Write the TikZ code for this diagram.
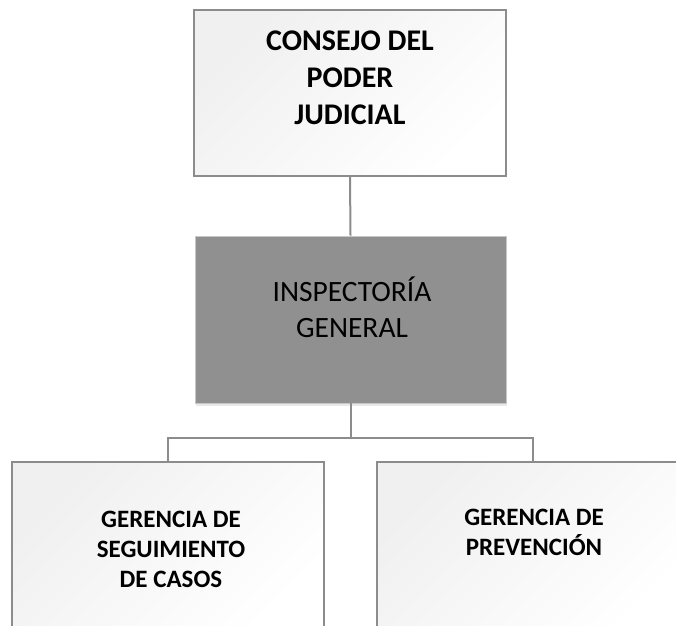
\documentclass[tikz,border=0pt]{standalone}
\usepackage{fontspec}
\setmainfont{Carlito}
\usetikzlibrary{shadows}
\definecolor{lineg}{HTML}{8C8C8C}
\definecolor{midfill}{HTML}{909090}
\tikzset{
  wbox/.style={draw=lineg, line width=2pt, top color=black!6, bottom color=white, shading angle=45,
    minimum width=312pt, minimum height=166pt, align=center, inner sep=0pt, text=black},
  gbox/.style={draw=black!22, line width=0.8pt, fill=midfill,
    minimum width=311pt, minimum height=167pt, align=center, inner sep=0pt, text=black,
    drop shadow={shadow xshift=1pt, shadow yshift=-3pt, opacity=0.18}},
  conn/.style={draw=lineg, line width=2pt}
}
\begin{document}
\begin{tikzpicture}[x=1pt,y=-1pt]
\useasboundingbox (0,0) rectangle (676,625);
\clip (0,0) rectangle (676,625);
\fill[white] (0,0) rectangle (676,625);
\node[wbox] (top) at (350,93) {};
\node[font=\fontsize{30}{37}\selectfont\bfseries, align=center] (toptext) at (350,78) {CONSEJO DEL\\PODER\\JUDICIAL};
\node[gbox] (mid) at (350.5,319.5) {};
\node[font=\fontsize{29.5}{36}\selectfont, align=center] (midtext) at (352,307) {INSPECTORÍA\\GENERAL};
\node[wbox] (left) at (168,545) {};
\node[font=\fontsize{25}{30}\selectfont\bfseries, align=center] (lefttext) at (171,549) {GERENCIA DE\\SEGUIMIENTO\\DE CASOS};
\node[wbox] (right) at (533,545) {};
\node[font=\fontsize{25}{30}\selectfont\bfseries, align=center] (righttext) at (534,532) {GERENCIA DE\\PREVENCIÓN};
\draw[conn] (top.south) -- (mid.north);
\coordinate (bus) at (350.5,438);
\draw[conn] (mid.south) -- (bus);
\draw[conn] (bus) -| (left.north);
\draw[conn] (bus) -| (right.north);
\end{tikzpicture}
\end{document}
